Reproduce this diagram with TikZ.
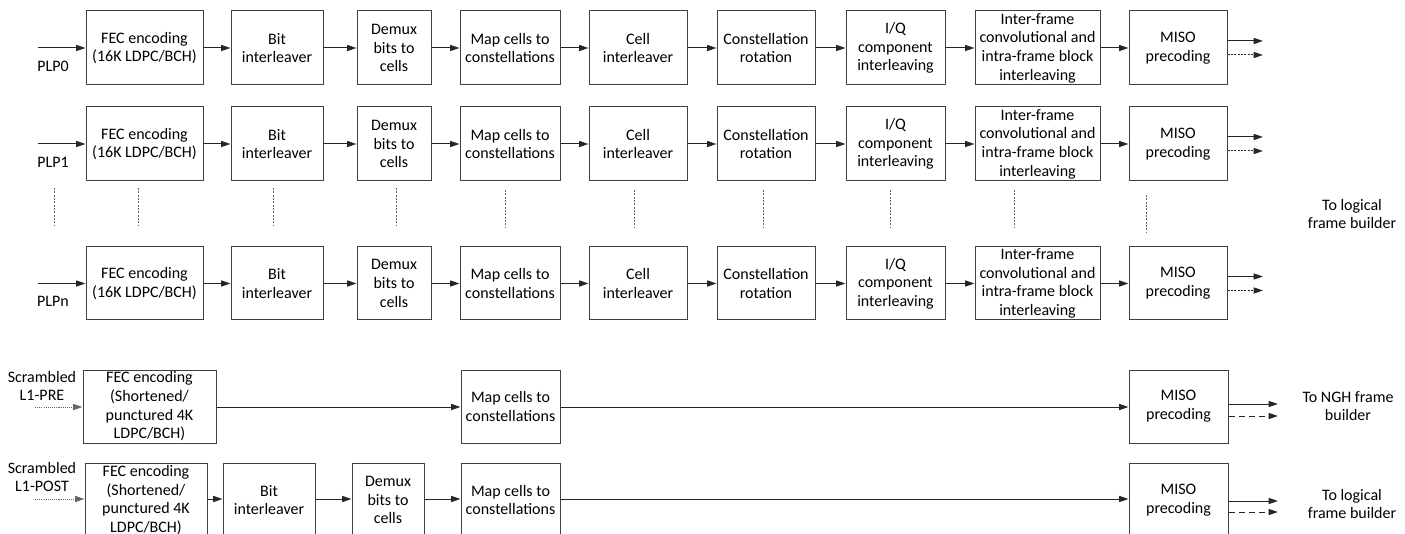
\documentclass[tikz,border=0pt]{standalone}
\usepackage{fontspec}
\setmainfont{Carlito}
\usetikzlibrary{arrows.meta}
% block given by its left/right/top/bottom edges (1 unit = 0.75pt, y downwards)
\newcommand\blk[6]{%
  \node[box, minimum width={(#3-#2)*0.75pt}, minimum height={(#5-#4)*0.75pt}]
    (#1) at ({(#2+#3)/2},{(#4+#5)/2}) {#6};}
\begin{document}
\begin{tikzpicture}[x=0.75pt,y=-0.75pt,
  box/.style={draw=black!75, line width=0.75pt, align=center, inner sep=0pt,
    font=\fontsize{12pt}{14pt}\selectfont},
  lbl/.style={align=center, inner sep=0pt, font=\fontsize{12pt}{14pt}\selectfont},
  arr/.style={-{Triangle[length=7pt,width=4.5pt]}, line width=0.75pt, draw=black!85},
  finedash/.style={dash pattern=on 1.5pt off 1pt},
  longdash/.style={dash pattern=on 4.5pt off 3pt},
  dotin/.style={dash pattern=on 0.8pt off 0.8pt, draw=black!60},
  guide/.style={draw=black!60, line width=0.6pt, dash pattern=on 1.5pt off 1pt}]
\useasboundingbox (0,0) rectangle (1405,534);
\clip (0,0) rectangle (1405,534);

% ---- PLP chains ----
\foreach \r/\ya/\yb/\name in {1/11/85/PLP0, 2/107/181/PLP1, 3/247/320/PLPn}{
  \blk{fec\r}{86}{203}{\ya}{\yb}{FEC encoding\\(16K LDPC/BCH)}
  \blk{bit\r}{231}{323}{\ya}{\yb}{Bit\\interleaver}
  \blk{dmx\r}{357}{431}{\ya}{\yb}{Demux\\bits to\\cells}
  \blk{map\r}{460}{560}{\ya}{\yb}{Map cells to\\constellations}
  \blk{cel\r}{589}{687}{\ya}{\yb}{Cell\\interleaver}
  \blk{rot\r}{717}{815}{\ya}{\yb}{Constellation\\rotation}
  \blk{iqc\r}{846}{945}{\ya}{\yb}{I/Q\\component\\interleaving}
  \blk{tim\r}{975}{1100}{\ya}{\yb}{Inter-frame\\convolutional and\\intra-frame block\\interleaving}
  \blk{mis\r}{1129}{1227}{\ya}{\yb}{MISO\\precoding}
  \foreach \a/\b in {fec/bit, bit/dmx, dmx/map, map/cel, cel/rot, rot/iqc, iqc/tim, tim/mis}
    \draw[arr] (\a\r) -- (\b\r);
  \coordinate (in\r) at (38,{(\ya+\yb)/2});
  \draw[arr] (in\r) -- (fec\r);
  \node[lbl] (plp\r) at (53,{(\ya+\yb)/2+18}) {\name};
  \coordinate (oa\r) at (1263,{(\ya+\yb)/2-7});
  \coordinate (ob\r) at (1263,{(\ya+\yb)/2+7});
  \draw[arr] (mis\r.east |- oa\r) -- (oa\r);
  \draw[arr, finedash] (mis\r.east |- ob\r) -- (ob\r);
}

% ---- continuation marks between PLP1 and PLPn ----
\foreach \x/\ya/\yb in {54/188/226, 138/188/226, 273/188/226, 396/188/226,
  505/190/228, 634/190/228, 763/190/228, 890/190/228, 1014/190/228, 1146/195/233}
  \draw[guide] (\x,\ya) -- (\x,\yb);

\node[lbl] (outplp) at (1352,214) {To logical\\frame builder};

% ---- L1-PRE ----
\blk{fecA}{83}{216}{370}{443}{FEC encoding\\(Shortened/\\punctured 4K\\LDPC/BCH)}
\blk{mapA}{461}{560}{370}{443}{Map cells to\\constellations}
\blk{misA}{1129}{1228}{370}{443}{MISO\\precoding}
\node[lbl] (preL) at (42,386) {Scrambled\\L1-PRE};
\coordinate (inA) at (35,407);
\draw[arr, dotin] (inA) -- (fecA.west |- inA);
\draw[arr] (fecA.east |- inA) -- (mapA.west |- inA);
\draw[arr] (mapA.east |- inA) -- (misA.west |- inA);
\coordinate (oaA) at (1278,404);
\coordinate (obA) at (1278,416);
\draw[arr] (misA.east |- oaA) -- (oaA);
\draw[arr, longdash] (misA.east |- obA) -- (obA);
\node[lbl] (outA) at (1348,406) {To NGH frame\\builder};

% ---- L1-POST ----
\blk{fecB}{85}{207}{463}{537}{FEC encoding\\(Shortened/\\punctured 4K\\LDPC/BCH)}
\blk{bitB}{223}{315}{463}{537}{Bit\\interleaver}
\blk{dmxB}{352}{424}{463}{537}{Demux\\bits to\\cells}
\blk{mapB}{461}{560}{463}{537}{Map cells to\\constellations}
\blk{misB}{1129}{1228}{463}{537}{MISO\\precoding}
\node[lbl] (postL) at (42,477) {Scrambled\\L1-POST};
\coordinate (inB) at (35,499);
\draw[arr, dotin] (inB) -- (fecB.west |- inB);
\draw[arr] (fecB.east |- inB) -- (bitB.west |- inB);
\draw[arr] (bitB.east |- inB) -- (dmxB.west |- inB);
\draw[arr] (dmxB.east |- inB) -- (mapB.west |- inB);
\draw[arr] (mapB.east |- inB) -- (misB.west |- inB);
\coordinate (oaB) at (1278,501);
\coordinate (obB) at (1278,512);
\draw[arr] (misB.east |- oaB) -- (oaB);
\draw[arr, longdash] (misB.east |- obB) -- (obB);
\node[lbl] (outB) at (1352,504) {To logical\\frame builder};
\end{tikzpicture}
\end{document}
